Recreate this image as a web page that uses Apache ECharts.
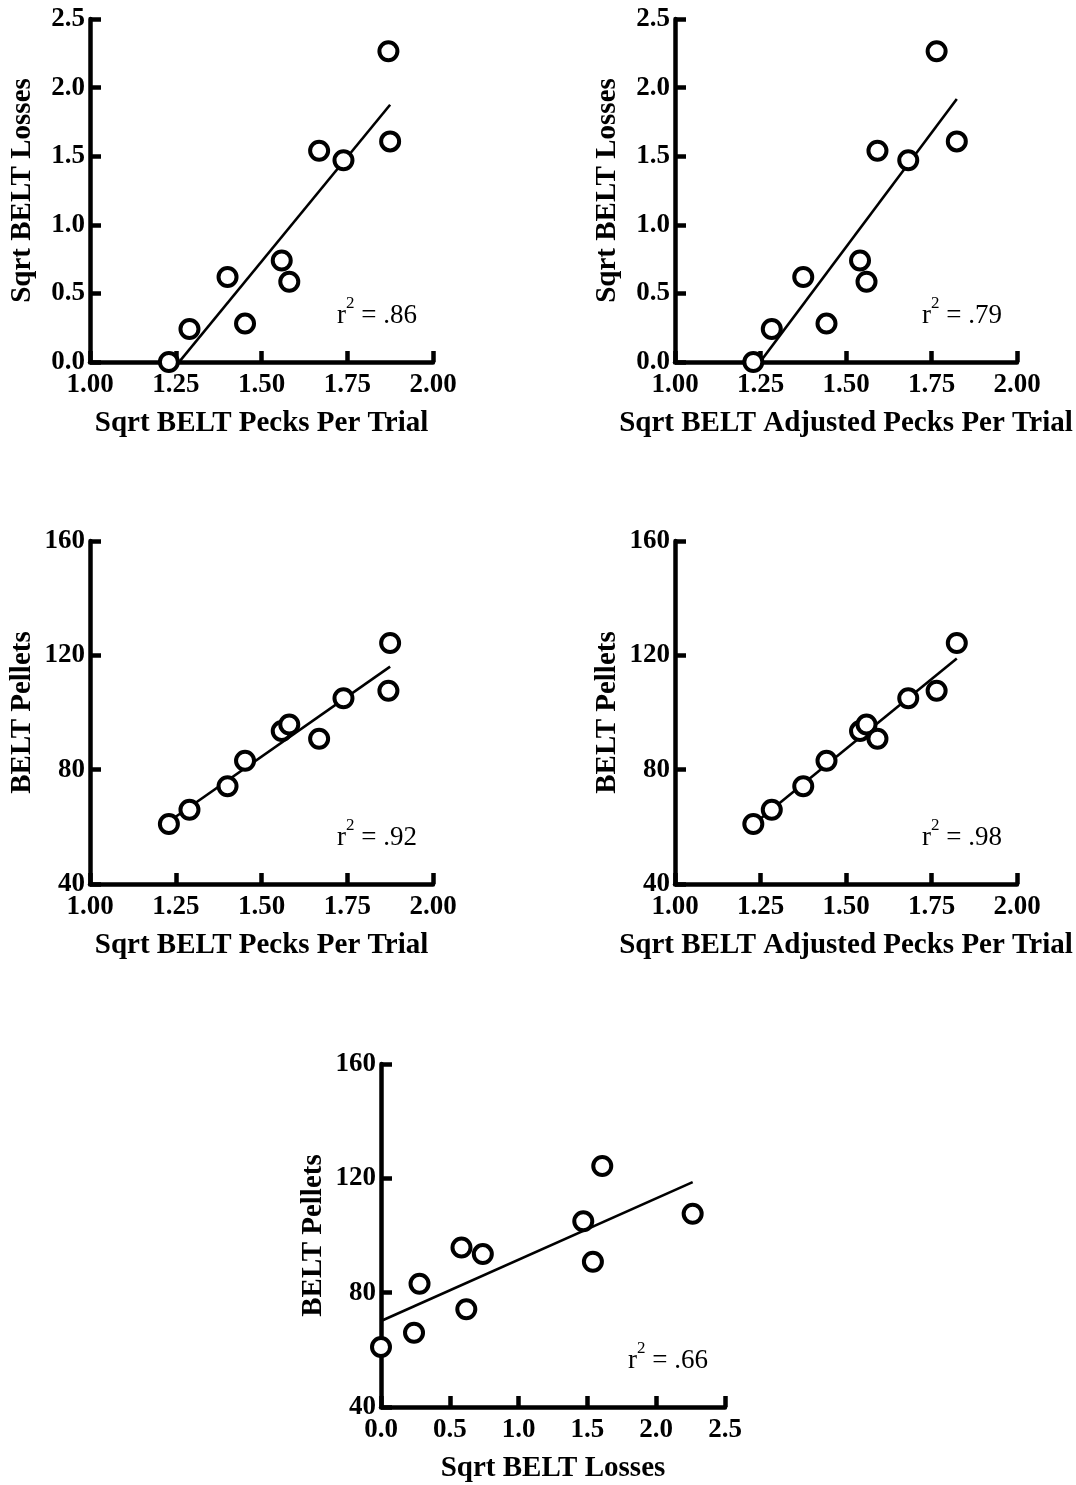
<!DOCTYPE html>
<html>
<head>
<meta charset="utf-8">
<script src="https://cdn.jsdelivr.net/npm/echarts@6/dist/echarts.min.js"></script>
<style>
  html, body { margin: 0; padding: 0; background: #fff; }
  #chart { width: 1076px; height: 1485px; }
</style>
</head>
<body>
<div id="chart"></div>
<script>
// Per-subject values (one entry per bird, same order in every array)
const pecksPerTrial         = [1.230, 1.290, 1.401, 1.452, 1.559, 1.581, 1.668, 1.739, 1.870, 1.875];
const adjustedPecksPerTrial = [1.229, 1.283, 1.375, 1.443, 1.541, 1.560, 1.592, 1.682, 1.765, 1.824];
const sqrtLosses            = [0.00, 0.24, 0.62, 0.28, 0.74, 0.585, 1.54, 1.47, 2.265, 1.608];
const pellets               = [61.0, 66.0, 74.2, 83.1, 93.5, 95.8, 90.8, 105.0, 107.6, 124.3];

// Axis titles and fit statistics printed in each panel
const pecksTitle    = 'Sqrt BELT Pecks Per Trial';
const adjustedTitle = 'Sqrt BELT Adjusted Pecks Per Trial';
const lossesTitle   = 'Sqrt BELT Losses';
const pelletsTitle  = 'BELT Pellets';
const r2Labels      = ['.86', '.79', '.92', '.98', '.66'];

// Axis scales
const pecksScale   = { min: 1.0, max: 2.0, interval: 0.25, decimals: 2 };
const lossesScale  = { min: 0.0, max: 2.5, interval: 0.5,  decimals: 1 };
const pelletsScale = { min: 40,  max: 160, interval: 40,   decimals: 0 };

const panels = [
  { x: pecksPerTrial,         y: sqrtLosses, xScale: pecksScale,  yScale: lossesScale,  xName: pecksTitle,    yName: lossesTitle,  r2: r2Labels[0],
    grid: { left: 90,  top: 19,   width: 343, height: 343 } },
  { x: adjustedPecksPerTrial, y: sqrtLosses, xScale: pecksScale,  yScale: lossesScale,  xName: adjustedTitle, yName: lossesTitle,  r2: r2Labels[1],
    grid: { left: 675, top: 19,   width: 342, height: 343 } },
  { x: pecksPerTrial,         y: pellets,    xScale: pecksScale,  yScale: pelletsScale, xName: pecksTitle,    yName: pelletsTitle, r2: r2Labels[2],
    grid: { left: 90,  top: 541,  width: 343, height: 343 } },
  { x: adjustedPecksPerTrial, y: pellets,    xScale: pecksScale,  yScale: pelletsScale, xName: adjustedTitle, yName: pelletsTitle, r2: r2Labels[3],
    grid: { left: 675, top: 541,  width: 342, height: 343 } },
  { x: sqrtLosses,            y: pellets,    xScale: lossesScale, yScale: pelletsScale, xName: lossesTitle,   yName: pelletsTitle, r2: r2Labels[4],
    grid: { left: 381, top: 1064, width: 344, height: 343 } }
];

const SERIF = "'Liberation Serif', 'Times New Roman', serif";
const AXIS_W = 4.5;

// Least-squares line through the points of a panel
function linearFit(xs, ys) {
  const n = xs.length;
  const mx = xs.reduce((a, b) => a + b, 0) / n;
  const my = ys.reduce((a, b) => a + b, 0) / n;
  let sxy = 0, sxx = 0;
  for (let i = 0; i < n; i++) {
    sxy += (xs[i] - mx) * (ys[i] - my);
    sxx += (xs[i] - mx) * (xs[i] - mx);
  }
  const slope = sxy / sxx;
  return { slope, intercept: my - slope * mx };
}

function axisBase(scale) {
  return {
    type: 'value',
    min: scale.min,
    max: scale.max,
    interval: scale.interval,
    splitLine: { show: false },
    axisLine: { show: true, onZero: false, lineStyle: { color: '#000', width: AXIS_W } },
    axisTick: { show: true, inside: true, length: 11, lineStyle: { color: '#000', width: AXIS_W } },
    axisLabel: {
      color: '#000', fontFamily: SERIF, fontWeight: 'bold', fontSize: 27,
      formatter: v => Number(v).toFixed(scale.decimals)
    },
    nameLocation: 'middle',
    nameTextStyle: { color: '#000', fontFamily: SERIF, fontWeight: 'bold', fontSize: 29 }
  };
}

const grids = [], xAxes = [], yAxes = [], series = [], titles = [];

panels.forEach((p, i) => {
  grids.push(Object.assign({ containLabel: false }, p.grid));

  const xa = axisBase(p.xScale);
  xa.gridIndex = i;
  xa.name = p.xName;
  xa.nameGap = 47;
  xa.axisLabel.margin = 10;
  xAxes.push(xa);

  const ya = axisBase(p.yScale);
  ya.gridIndex = i;
  ya.name = p.yName;
  ya.nameGap = 53;
  ya.axisLabel.margin = 5;
  yAxes.push(ya);

  const fit = linearFit(p.x, p.y);
  const x0 = Math.min(...p.x), x1 = Math.max(...p.x);
  series.push({
    type: 'line',
    xAxisIndex: i, yAxisIndex: i,
    data: [[x0, fit.intercept + fit.slope * x0], [x1, fit.intercept + fit.slope * x1]],
    symbol: 'none',
    lineStyle: { color: '#000', width: 2.6 },
    clip: true,
    silent: true,
    z: 2
  });
  series.push({
    type: 'scatter',
    xAxisIndex: i, yAxisIndex: i,
    data: p.x.map((v, k) => [v, p.y[k]]),
    symbol: 'circle',
    symbolSize: 18,
    itemStyle: { color: '#fff', borderColor: '#000', borderWidth: 4, opacity: 1 },
    clip: false,
    silent: true,
    z: 3
  });

  const base = { fontFamily: SERIF, fontWeight: 'normal', color: '#000', lineHeight: 34 };
  titles.push({
    left: p.grid.left + 242,
    top: p.grid.top + p.grid.height - 72,
    text: '{r|r}{s|2}{t| = ' + p.r2 + '}',
    textStyle: {
      fontWeight: 'normal',
      rich: {
        r: Object.assign({ fontSize: 27, verticalAlign: 'bottom' }, base),
        s: Object.assign({ fontSize: 17, verticalAlign: 'top' }, base),
        t: Object.assign({ fontSize: 27, verticalAlign: 'bottom' }, base)
      }
    }
  });
});

const chart = echarts.init(document.getElementById('chart'), null, { renderer: 'canvas' });
chart.setOption({
  backgroundColor: '#fff',
  animation: false,
  title: titles,
  grid: grids,
  xAxis: xAxes,
  yAxis: yAxes,
  series: series
});
</script>
</body>
</html>
